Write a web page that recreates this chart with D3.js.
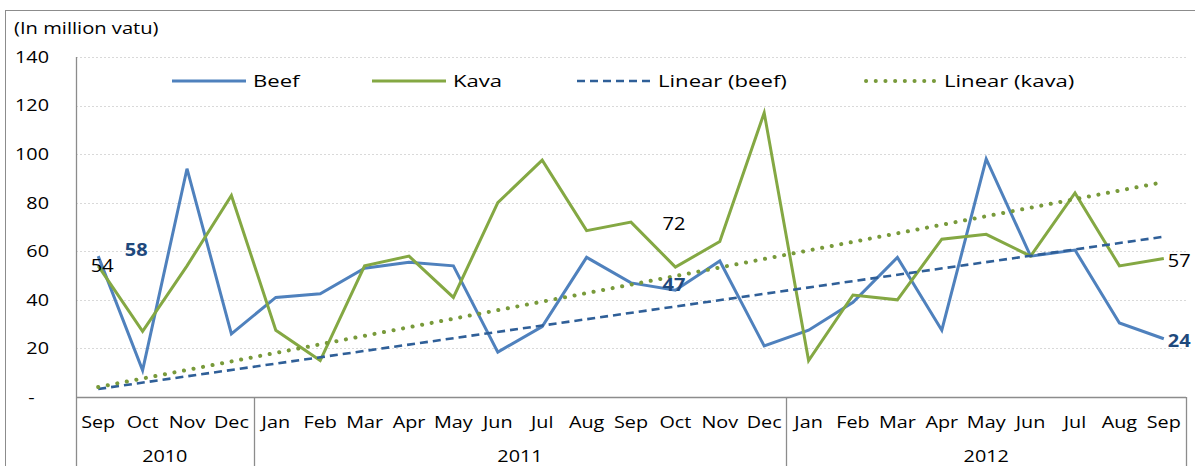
<!DOCTYPE html>
<html>
<head>
<meta charset="utf-8">
<script src="https://cdn.jsdelivr.net/npm/d3@7"></script>
<style>
  body { margin: 0; background: #fff; }
  svg { display: block; font-family: "Open Sans", sans-serif; }
</style>
</head>
<body>
<svg id="chart" width="1195" height="466"></svg>
<script>
// month categories, Sep 2010 - Sep 2012
const months = ["Sep", "Oct", "Nov", "Dec",
  "Jan", "Feb", "Mar", "Apr", "May", "Jun", "Jul", "Aug", "Sep", "Oct", "Nov", "Dec",
  "Jan", "Feb", "Mar", "Apr", "May", "Jun", "Jul", "Aug", "Sep"];
const yearSpans = [["2010", 4], ["2011", 12], ["2012", 9]];

const beef = [58, 11, 94, 26, 41, 42.5, 53, 55.5, 54, 18.5, 29, 57.5, 47, 44, 56, 21,
  27.5, 39, 57.5, 27.5, 98, 58, 60.5, 30.5, 24];
const kava = [54, 27, 54, 83, 27.5, 15, 54, 58, 41, 80, 97.5, 68.5, 72, 53.5, 64, 117,
  15, 42, 40, 65, 67, 58, 84, 54, 57];

// trend lines as drawn (start, end value)
const beefTrend = [3.3, 66];
const kavaTrend = [4.1, 88.5];

const yTicks = [0, 20, 40, 60, 80, 100, 120, 140];

const legendItems = [
  { name: "Beef", key: "beef" },
  { name: "Kava", key: "kava" },
  { name: "Linear (beef)", key: "beefTrend" },
  { name: "Linear (kava)", key: "kavaTrend" }
];

// labelled points: [series, index]
const labelled = [["kava", 0], ["beef", 0], ["kava", 12], ["beef", 12], ["kava", 24], ["beef", 24]];

const styles = {
  beef: { stroke: "#4f81bd", width: 3, dash: null, cap: "butt" },
  kava: { stroke: "#84a843", width: 3, dash: null, cap: "butt" },
  beefTrend: { stroke: "#2f5f98", width: 2.6, dash: "8,5", cap: "butt" },
  kavaTrend: { stroke: "#789a3a", width: 4, dash: "0.1,9.6", cap: "round" }
};

const svg = d3.select("#chart");
const plotLeft = 76, plotRight = 1186, plotTop = 57, plotBottom = 397;
// the source text is drawn wide; stretch glyphs horizontally
const wide = "scale(1.2,1)";
const wider = "scale(1.3,1)";

const x = d3.scaleBand().domain(d3.range(months.length)).range([plotLeft, plotRight]);
const y = d3.scaleLinear().domain([0, 140]).range([plotBottom, plotTop]);
const cx = i => x(i) + x.bandwidth() / 2;

// outer border
svg.append("rect")
  .attr("x", 5.5).attr("y", 10.5).attr("width", 1250).attr("height", 600)
  .attr("fill", "none").attr("stroke", "#8c8c8c").attr("stroke-width", 1);

svg.append("text")
  .attr("transform", `translate(14,34) ${wider}`)
  .attr("font-size", 15.5).attr("fill", "#000")
  .text("(In million vatu)");

// grid
svg.append("g").selectAll("line")
  .data(yTicks.filter(d => d > 0))
  .join("line")
  .attr("x1", plotLeft).attr("x2", plotRight)
  .attr("y1", d => Math.round(y(d)) + 0.5).attr("y2", d => Math.round(y(d)) + 0.5)
  .attr("stroke", "#d9d9d9").attr("stroke-dasharray", "2,2");

// y axis labels
const yAxis = d3.axisLeft(y).tickValues(yTicks).tickSize(0).tickPadding(0)
  .tickFormat(d => d === 0 ? "-" : d);
svg.append("g")
  .attr("transform", `translate(${plotLeft - 27},0)`)
  .call(yAxis)
  .call(g => g.select(".domain").remove())
  .call(g => g.selectAll("text")
    .attr("font-family", "Open Sans, sans-serif")
    .attr("font-size", 16.5).attr("fill", "#000")
    .attr("x", d => d === 0 ? -12 : 0)
    .attr("transform", wide));

// month labels
const xAxis = d3.axisBottom(x).tickSize(0).tickFormat(i => months[i]);
svg.append("g")
  .attr("transform", `translate(0,${plotBottom + 16})`)
  .call(xAxis)
  .call(g => g.select(".domain").remove())
  .call(g => g.selectAll("text")
    .attr("font-family", "Open Sans, sans-serif")
    .attr("font-size", 16.5).attr("fill", "#000")
    .attr("transform", wide));

// year labels and separators
let start = 0;
const spans = yearSpans.map(([yr, n]) => {
  const s = { yr, a: start, b: start + n - 1 };
  start += n;
  return s;
});
svg.append("g").selectAll("text")
  .data(spans)
  .join("text")
  .attr("transform", d => `translate(${(x(d.a) + x(d.b) + x.bandwidth()) / 2},462) ${wide}`)
  .attr("text-anchor", "middle")
  .attr("font-size", 16.5).attr("fill", "#000")
  .text(d => d.yr);

const axisColor = "#8c8c8c";
svg.append("g").selectAll("line")
  .data(spans.map(d => d.b))
  .join("line")
  .attr("x1", i => Math.round(x(i) + x.bandwidth()) + 0.5)
  .attr("x2", i => Math.round(x(i) + x.bandwidth()) + 0.5)
  .attr("y1", plotBottom).attr("y2", 466)
  .attr("stroke", axisColor).attr("stroke-width", 1.3);

// axes lines
svg.append("line")
  .attr("x1", plotLeft + 0.5).attr("x2", plotLeft + 0.5)
  .attr("y1", plotTop).attr("y2", 466)
  .attr("stroke", axisColor).attr("stroke-width", 1.3);
svg.append("line")
  .attr("x1", plotLeft).attr("x2", plotRight)
  .attr("y1", plotBottom + 0.5).attr("y2", plotBottom + 0.5)
  .attr("stroke", axisColor).attr("stroke-width", 1.3);

// series
const line = d3.line().x((d, i) => cx(i)).y(d => y(d));
const last = months.length - 1;
const trendLine = d3.line().x(d => cx(d[0])).y(d => y(d[1]));

const plot = svg.append("g");
function drawPath(d, st, gen) {
  plot.append("path")
    .attr("d", gen(d))
    .attr("fill", "none")
    .attr("stroke", st.stroke)
    .attr("stroke-width", st.width)
    .attr("stroke-dasharray", st.dash)
    .attr("stroke-linecap", st.cap)
    .attr("stroke-linejoin", "miter");
}
drawPath(beef, styles.beef, line);
drawPath(kava, styles.kava, line);
drawPath([[0, beefTrend[0]], [last, beefTrend[1]]], styles.beefTrend, trendLine);
drawPath([[0, kavaTrend[0]], [last, kavaTrend[1]]], styles.kavaTrend, trendLine);

// data labels
const seriesData = { beef, kava };
const labelPos = {
  "kava-0": { dx: 4, dy: 6, anchor: "middle" },
  "beef-0": { dx: 38, dy: 0, anchor: "middle" },
  "kava-12": { dx: 43, dy: 8, anchor: "middle" },
  "beef-12": { dx: 43, dy: 8, anchor: "middle" },
  "kava-24": { dx: 4, dy: 8, anchor: "start" },
  "beef-24": { dx: 4, dy: 8, anchor: "start" }
};
svg.append("g").selectAll("text")
  .data(labelled)
  .join("text")
  .each(function ([s, i]) {
    const p = labelPos[`${s}-${i}`];
    d3.select(this)
      .attr("transform", `translate(${cx(i) + p.dx},${y(seriesData[s][i]) + p.dy}) scale(1.08,1)`)
      .attr("text-anchor", p.anchor);
  })
  .attr("font-size", 18.5)
  .attr("font-weight", ([s]) => s === "beef" ? "bold" : "normal")
  .attr("fill", ([s]) => s === "beef" ? "#1f497d" : "#000")
  .text(([s, i]) => Math.round(seriesData[s][i]));

// legend
const legendX = [172, 372, 577, 863];
const legend = svg.append("g");
legendItems.forEach((it, k) => {
  const st = styles[it.key];
  legend.append("line")
    .attr("x1", legendX[k] + (it.key === "kavaTrend" ? 3 : 0))
    .attr("x2", legendX[k] + 74)
    .attr("y1", 81).attr("y2", 81)
    .attr("stroke", st.stroke)
    .attr("stroke-width", st.width)
    .attr("stroke-dasharray", st.dash)
    .attr("stroke-linecap", st.cap);
  legend.append("text")
    .attr("transform", `translate(${legendX[k] + 81},87) ${wider}`)
    .attr("font-size", 17).attr("fill", "#000")
    .text(it.name);
});
</script>
</body>
</html>
